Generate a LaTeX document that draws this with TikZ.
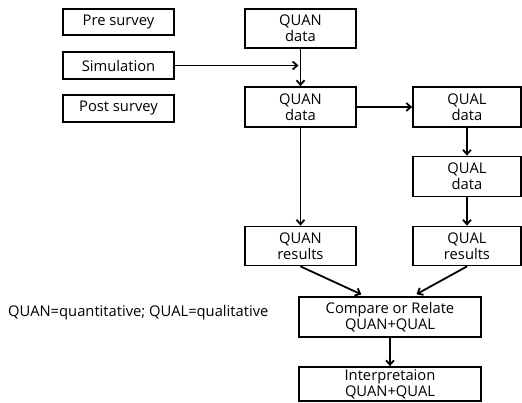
\documentclass[tikz,border=0pt]{standalone}
\usepackage{fontspec}
\setmainfont{Open Sans}
\usepackage{tikz}
\usetikzlibrary{calc,arrows.meta,positioning}

\begin{document}
\begin{tikzpicture}[x=1bp,y=-1bp,
  box/.style={draw, line width=1.8bp, align=center, inner sep=0pt,
    font=\fontsize{14.8}{16}\selectfont},
  arr/.style={line width=1.8bp, -{Straight Barb[length=4.5pt,width=8pt]}}]
  \useasboundingbox (0,0) rectangle (522,402);
  % left column
  \node[box, minimum width=111bp, minimum height=26bp](pre)at(118.5,22){Pre survey};
  \node[box, minimum width=111bp, minimum height=27bp](sim)at(118.5,65.5){Simulation};
  \node[box, minimum width=111bp, minimum height=27bp](post)at(118.5,108.5){Post survey};
  % QUAN strand
  \node[box, minimum width=111bp, minimum height=39bp](quan1)at(300.5,28.5){QUAN\\data};
  \node[box, minimum width=111bp, minimum height=40bp](quan2)at(300.5,107){QUAN\\data};
  \node[box, minimum width=111bp, minimum height=39bp](quanres)at(300.5,246){QUAN\\results};
  % QUAL strand
  \node[box, minimum width=108bp, minimum height=40bp](qual1)at(467,107){QUAL\\data};
  \node[box, minimum width=108bp, minimum height=40bp](qual2)at(467,176.5){QUAL\\data};
  \node[box, minimum width=108bp, minimum height=39bp](qualres)at(467,246){QUAL\\results};
  % merging
  \node[box, minimum width=182bp, minimum height=40bp](cmp)at(390,317){Compare or Relate\\QUAN+QUAL};
  \node[box, minimum width=182bp, minimum height=34bp](interp)at(390,384){Interpretaion\\QUAN+QUAL};
  \node[right, font=\fontsize{14.8}{16}\selectfont, inner sep=0pt](note)at(8,313)
  {QUAN=quantitative; QUAL=qualitative};
  % connectors
  \coordinate(join)at(quan1.south |- sim.east);
  \draw[arr](quan1.south)--(quan2.north);
  \draw[arr, shorten >=2pt](sim.east)--(join);
  \draw[arr](quan2)--(qual1);
  \draw[arr](quan2)--(quanres);
  \draw[arr](qual1)--(qual2);
  \draw[arr](qual2)--(qualres);
  \draw[arr, shorten >=4pt](quanres.south)--($(cmp.north)+(-25,0)$);
  \draw[arr, shorten >=4pt](qualres.south)--($(cmp.north)+(23,0)$);
  \draw[arr](cmp)--(interp);
\end{tikzpicture}
\end{document}
